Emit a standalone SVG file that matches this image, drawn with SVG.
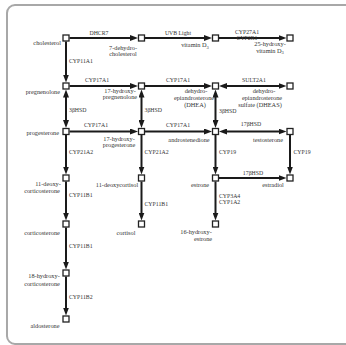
<svg xmlns="http://www.w3.org/2000/svg" width="346" height="345" viewBox="0 0 346 345">
<style>
.n{fill:#fff;stroke:#222;stroke-width:1.3}
.e{stroke:#1a1a1a;stroke-width:2;fill:none}
.t{font-family:"Liberation Serif","Times New Roman",serif;font-size:6.3px;fill:#333}
.k{font-family:"Liberation Serif","Times New Roman",serif;font-size:5.8px;fill:#333}
.m{text-anchor:middle}
.r{text-anchor:end}
</style>
<defs>
<marker id="a" viewBox="0 0 8 6" refX="4" refY="3" markerWidth="8" markerHeight="6" markerUnits="userSpaceOnUse" orient="auto-start-reverse">
<path d="M0,0 L8,3 L0,6 z" fill="#1a1a1a"/>
</marker>
</defs>
<rect x="7" y="5" width="400" height="339" rx="8" fill="#fff" stroke="#a8a8a8" stroke-width="2"/>

<g id="connectors">
<!-- row 1 -->
<path class="e" d="M69.5,38 H134" marker-end="url(#a)"/>
<path class="e" d="M145,38 H208" marker-end="url(#a)"/>
<path class="e" d="M219,38 H282.5" marker-end="url(#a)"/>
<path class="e" d="M66,41.5 V78.5" marker-end="url(#a)"/>
<!-- row 2 -->
<path class="e" d="M69.5,86 H134" marker-end="url(#a)"/>
<path class="e" d="M145,86 H208" marker-end="url(#a)"/>
<path class="e" d="M223,86 H282.5" marker-start="url(#a)" marker-end="url(#a)"/>
<path class="e" d="M66,93.5 V124" marker-start="url(#a)" marker-end="url(#a)"/>
<path class="e" d="M141.5,93.5 V124" marker-start="url(#a)" marker-end="url(#a)"/>
<path class="e" d="M215.5,93.5 V124" marker-start="url(#a)" marker-end="url(#a)"/>
<!-- row 3 -->
<path class="e" d="M69.5,131.5 H134" marker-end="url(#a)"/>
<path class="e" d="M145,131.5 H208" marker-end="url(#a)"/>
<path class="e" d="M223,131.5 H282.5" marker-start="url(#a)" marker-end="url(#a)"/>
<path class="e" d="M66,135 V170.5" marker-end="url(#a)"/>
<path class="e" d="M141.5,135 V170.5" marker-end="url(#a)"/>
<path class="e" d="M215.5,135 V170.5" marker-end="url(#a)"/>
<path class="e" d="M290,135 V170.5" marker-end="url(#a)"/>
<!-- row 4 -->
<path class="e" d="M219,178 H282.5" marker-end="url(#a)"/>
<path class="e" d="M66,181.5 V216.5" marker-end="url(#a)"/>
<path class="e" d="M141.5,181.5 V216.5" marker-end="url(#a)"/>
<path class="e" d="M215.5,181.5 V216.5" marker-end="url(#a)"/>
<path class="e" d="M66,227.5 V265.5" marker-end="url(#a)"/>
<path class="e" d="M66,276.5 V311.5" marker-end="url(#a)"/>
</g>

<g id="enzyme-labels">
<text class="k m" x="99" y="35">DHCR7</text>
<text class="k m" x="178" y="35">UVB Light</text>
<text class="k m" x="247" y="34">CYP27A1</text>
<text class="k m" x="247" y="40">CYP2R1</text>
<text class="k" x="69" y="63">CYP11A1</text>
<text class="k m" x="97" y="82">CYP17A1</text>
<text class="k m" x="178" y="82">CYP17A1</text>
<text class="k m" x="254" y="82">SULT2A1</text>
<text class="k" x="69" y="112">3βHSD</text>
<text class="k" x="144.5" y="112">3βHSD</text>
<text class="k" x="219" y="112.5">3βHSD</text>
<text class="k m" x="96" y="127">CYP17A1</text>
<text class="k m" x="178" y="127">CYP17A1</text>
<text class="k m" x="251" y="125.5">17βHSD</text>
<text class="k" x="69" y="154">CYP21A2</text>
<text class="k" x="144.5" y="154">CYP21A2</text>
<text class="k" x="219" y="154">CYP19</text>
<text class="k" x="293.5" y="154">CYP19</text>
<text class="k m" x="253" y="175">17βHSD</text>
<text class="k" x="69" y="197">CYP11B1</text>
<text class="k" x="144.5" y="206">CYP11B1</text>
<text class="k" x="219" y="198">CYP3A4</text>
<text class="k" x="219" y="204">CYP1A2</text>
<text class="k" x="69" y="248">CYP11B1</text>
<text class="k" x="69" y="299">CYP11B2</text>
</g>

<g id="cholesterol"><rect class="n" x="63" y="35" width="6" height="6"/><text class="t r" x="61" y="45">cholesterol</text></g>
<g id="dehydrocholesterol"><rect class="n" x="138.5" y="35" width="6" height="6"/><text class="t m" x="123" y="49.5">7-dehydro-</text><text class="t m" x="123" y="55.5">cholesterol</text></g>
<g id="vitaminD3"><rect class="n" x="212.5" y="35" width="6" height="6"/><text class="t m" x="195" y="47">vitamin D<tspan font-size="4.5" dy="1.5">3</tspan></text></g>
<g id="hydroxyvitaminD3"><rect class="n" x="287" y="35" width="6" height="6"/><text class="t m" x="270" y="46">25-hydroxy-</text><text class="t m" x="270" y="52.5">vitamin D<tspan font-size="4.5" dy="1.5">3</tspan></text></g>

<g id="pregnenolone"><rect class="n" x="63" y="83" width="6" height="6"/><text class="t r" x="60" y="94">pregnenolone</text></g>
<g id="hydroxypregnenolone"><rect class="n" x="138.5" y="83" width="6" height="6"/><text class="t m" x="120" y="93">17-hydroxy-</text><text class="t m" x="120" y="99">pregnenolone</text></g>
<g id="DHEA"><rect class="n" x="212.5" y="83" width="6" height="6"/><text class="t m" x="196" y="93">dehydro-</text><text class="t m" x="194" y="100">epiandrosterone</text><text class="t m" x="195" y="107">(DHEA)</text></g>
<g id="DHEAS"><rect class="n" x="287" y="83" width="6" height="6"/><text class="t m" x="264" y="93">dehydro-</text><text class="t m" x="262" y="100">epiandrosterone</text><text class="t m" x="260" y="107">sulfate (DHEAS)</text></g>

<g id="progesterone"><rect class="n" x="63" y="128.5" width="6" height="6"/><text class="t r" x="59" y="135">progesterone</text></g>
<g id="hydroxyprogesterone"><rect class="n" x="138.5" y="128.5" width="6" height="6"/><text class="t m" x="119" y="141">17-hydroxy-</text><text class="t m" x="119" y="147">progesterone</text></g>
<g id="androstenedione"><rect class="n" x="212.5" y="128.5" width="6" height="6"/><text class="t m" x="189" y="142">androstenedione</text></g>
<g id="testosterone"><rect class="n" x="287" y="128.5" width="6" height="6"/><text class="t m" x="268" y="142">testosterone</text></g>

<g id="deoxycorticosterone"><rect class="n" x="63" y="175" width="6" height="6"/><text class="t m" x="48" y="186">11-deoxy-</text><text class="t m" x="42" y="193">corticosterone</text></g>
<g id="deoxycortisol"><rect class="n" x="138.5" y="175" width="6" height="6"/><text class="t m" x="117" y="187">11-deoxycortisol</text></g>
<g id="estrone"><rect class="n" x="212.5" y="175" width="6" height="6"/><text class="t m" x="200" y="187">estrone</text></g>
<g id="estradiol"><rect class="n" x="287" y="175" width="6" height="6"/><text class="t m" x="273" y="187">estradiol</text></g>

<g id="corticosterone"><rect class="n" x="63" y="221" width="6" height="6"/><text class="t m" x="42" y="235">corticosterone</text></g>
<g id="cortisol"><rect class="n" x="138.5" y="221" width="6" height="6"/><text class="t m" x="126" y="235">cortisol</text></g>
<g id="hydroxyestrone"><rect class="n" x="212.5" y="221" width="6" height="6"/><text class="t m" x="196" y="234">16-hydroxy-</text><text class="t m" x="203" y="240.5">estrone</text></g>

<g id="hydroxycorticosterone"><rect class="n" x="63" y="270" width="6" height="6"/><text class="t m" x="44" y="278">18-hydroxy-</text><text class="t m" x="42" y="286">corticosterone</text></g>
<g id="aldosterone"><rect class="n" x="63" y="316" width="6" height="6"/><text class="t m" x="45" y="328">aldosterone</text></g>
</svg>
